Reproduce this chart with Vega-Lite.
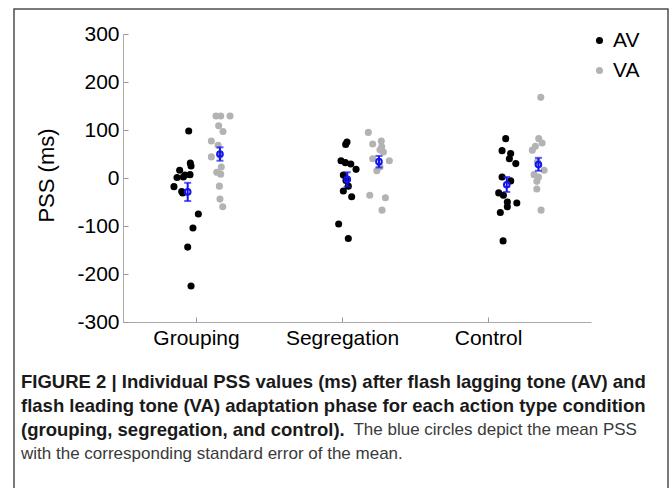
{
  "$schema": "https://vega.github.io/schema/vega-lite/v6.json",
  "width": 654,
  "height": 500,
  "autosize": {"type": "none"},
  "padding": {"left": 14, "top": 9, "right": 1, "bottom": 0},
  "background": "white",
  "config": {
    "view": {"stroke": "#4d4d4d", "strokeWidth": 1.5},
    "font": "Liberation Sans"
  },
  "title": {
    "text": [
      "FIGURE 2 | Individual PSS values (ms) after flash lagging tone (AV) and",
      "flash leading tone (VA) adaptation phase for each action type condition",
      "(grouping, segregation, and control)."
    ],
    "subtitle": [
      "\u200b\u2003\u2003\u2003\u2003\u2003\u2003\u2003\u2003\u2003\u2003\u2003\u2003\u2003\u2003\u2003\u2003\u2003\u2003\u2003\u00a0\u00a0The blue circles depict the mean PSS",
      "with the corresponding standard error of the mean."
    ],
    "orient": "bottom",
    "anchor": "start",
    "frame": "group",
    "offset": -136,
    "dx": 7,
    "font": "Liberation Sans",
    "fontSize": 18.5,
    "fontWeight": "bold",
    "lineHeight": 24,
    "color": "#1a1a1a",
    "subtitleFont": "Liberation Sans",
    "subtitleFontSize": 17,
    "subtitleFontWeight": "normal",
    "subtitleLineHeight": 24,
    "subtitleColor": "#3a3a3a",
    "subtitlePadding": -17.3
  },
  "datasets": {
    "points": [
      {"condition": "Grouping", "session": "AV", "pos": 0.950, "pss": 98},
      {"condition": "Grouping", "session": "AV", "pos": 0.961, "pss": 31},
      {"condition": "Grouping", "session": "AV", "pos": 0.966, "pss": 25},
      {"condition": "Grouping", "session": "AV", "pos": 0.888, "pss": 16},
      {"condition": "Grouping", "session": "AV", "pos": 0.959, "pss": 7},
      {"condition": "Grouping", "session": "AV", "pos": 0.870, "pss": 1},
      {"condition": "Grouping", "session": "AV", "pos": 0.913, "pss": 2},
      {"condition": "Grouping", "session": "AV", "pos": 0.925, "pss": 6},
      {"condition": "Grouping", "session": "AV", "pos": 0.849, "pss": -18},
      {"condition": "Grouping", "session": "AV", "pos": 0.909, "pss": -31},
      {"condition": "Grouping", "session": "AV", "pos": 0.902, "pss": -28},
      {"condition": "Grouping", "session": "AV", "pos": 1.016, "pss": -75},
      {"condition": "Grouping", "session": "AV", "pos": 0.979, "pss": -104},
      {"condition": "Grouping", "session": "AV", "pos": 0.943, "pss": -144},
      {"condition": "Grouping", "session": "AV", "pos": 0.966, "pss": -225},
      {"condition": "Grouping", "session": "VA", "pos": 1.137, "pss": 129},
      {"condition": "Grouping", "session": "VA", "pos": 1.169, "pss": 129},
      {"condition": "Grouping", "session": "VA", "pos": 1.233, "pss": 129},
      {"condition": "Grouping", "session": "VA", "pos": 1.155, "pss": 109},
      {"condition": "Grouping", "session": "VA", "pos": 1.185, "pss": 97},
      {"condition": "Grouping", "session": "VA", "pos": 1.105, "pss": 77},
      {"condition": "Grouping", "session": "VA", "pos": 1.151, "pss": 68},
      {"condition": "Grouping", "session": "VA", "pos": 1.105, "pss": 44},
      {"condition": "Grouping", "session": "VA", "pos": 1.164, "pss": 47},
      {"condition": "Grouping", "session": "VA", "pos": 1.173, "pss": 23},
      {"condition": "Grouping", "session": "VA", "pos": 1.142, "pss": 12},
      {"condition": "Grouping", "session": "VA", "pos": 1.169, "pss": 8},
      {"condition": "Grouping", "session": "VA", "pos": 1.160, "pss": -17},
      {"condition": "Grouping", "session": "VA", "pos": 1.164, "pss": -44},
      {"condition": "Grouping", "session": "VA", "pos": 1.183, "pss": -60},
      {"condition": "Segregation", "session": "AV", "pos": 2.025, "pss": 70},
      {"condition": "Segregation", "session": "AV", "pos": 2.034, "pss": 75},
      {"condition": "Segregation", "session": "AV", "pos": 1.993, "pss": 36},
      {"condition": "Segregation", "session": "AV", "pos": 2.023, "pss": 32},
      {"condition": "Segregation", "session": "AV", "pos": 2.060, "pss": 29},
      {"condition": "Segregation", "session": "AV", "pos": 2.096, "pss": 18},
      {"condition": "Segregation", "session": "AV", "pos": 2.009, "pss": 6},
      {"condition": "Segregation", "session": "AV", "pos": 2.027, "pss": -5},
      {"condition": "Segregation", "session": "AV", "pos": 2.043, "pss": -17},
      {"condition": "Segregation", "session": "AV", "pos": 2.009, "pss": -27},
      {"condition": "Segregation", "session": "AV", "pos": 2.066, "pss": -39},
      {"condition": "Segregation", "session": "AV", "pos": 1.977, "pss": -96},
      {"condition": "Segregation", "session": "AV", "pos": 2.043, "pss": -126},
      {"condition": "Segregation", "session": "VA", "pos": 2.180, "pss": 95},
      {"condition": "Segregation", "session": "VA", "pos": 2.269, "pss": 77},
      {"condition": "Segregation", "session": "VA", "pos": 2.210, "pss": 71},
      {"condition": "Segregation", "session": "VA", "pos": 2.272, "pss": 65},
      {"condition": "Segregation", "session": "VA", "pos": 2.260, "pss": 59},
      {"condition": "Segregation", "session": "VA", "pos": 2.283, "pss": 54},
      {"condition": "Segregation", "session": "VA", "pos": 2.210, "pss": 40},
      {"condition": "Segregation", "session": "VA", "pos": 2.324, "pss": 36},
      {"condition": "Segregation", "session": "VA", "pos": 2.260, "pss": 23},
      {"condition": "Segregation", "session": "VA", "pos": 2.238, "pss": 15},
      {"condition": "Segregation", "session": "VA", "pos": 2.190, "pss": -36},
      {"condition": "Segregation", "session": "VA", "pos": 2.297, "pss": -41},
      {"condition": "Segregation", "session": "VA", "pos": 2.274, "pss": -67},
      {"condition": "Control", "session": "AV", "pos": 3.121, "pss": 82},
      {"condition": "Control", "session": "AV", "pos": 3.096, "pss": 57},
      {"condition": "Control", "session": "AV", "pos": 3.155, "pss": 51},
      {"condition": "Control", "session": "AV", "pos": 3.146, "pss": 40},
      {"condition": "Control", "session": "AV", "pos": 3.190, "pss": 30},
      {"condition": "Control", "session": "AV", "pos": 3.096, "pss": 2},
      {"condition": "Control", "session": "AV", "pos": 3.155, "pss": -6},
      {"condition": "Control", "session": "AV", "pos": 3.073, "pss": -31},
      {"condition": "Control", "session": "AV", "pos": 3.105, "pss": -36},
      {"condition": "Control", "session": "AV", "pos": 3.132, "pss": -50},
      {"condition": "Control", "session": "AV", "pos": 3.197, "pss": -52},
      {"condition": "Control", "session": "AV", "pos": 3.132, "pss": -60},
      {"condition": "Control", "session": "AV", "pos": 3.084, "pss": -72},
      {"condition": "Control", "session": "AV", "pos": 3.103, "pss": -131},
      {"condition": "Control", "session": "VA", "pos": 3.361, "pss": 168},
      {"condition": "Control", "session": "VA", "pos": 3.347, "pss": 82},
      {"condition": "Control", "session": "VA", "pos": 3.370, "pss": 73},
      {"condition": "Control", "session": "VA", "pos": 3.324, "pss": 66},
      {"condition": "Control", "session": "VA", "pos": 3.303, "pss": 58},
      {"condition": "Control", "session": "VA", "pos": 3.338, "pss": 34},
      {"condition": "Control", "session": "VA", "pos": 3.384, "pss": 16},
      {"condition": "Control", "session": "VA", "pos": 3.315, "pss": 7},
      {"condition": "Control", "session": "VA", "pos": 3.345, "pss": 2},
      {"condition": "Control", "session": "VA", "pos": 3.334, "pss": -7},
      {"condition": "Control", "session": "VA", "pos": 3.334, "pss": -23},
      {"condition": "Control", "session": "VA", "pos": 3.363, "pss": -67}
    ],
    "means": [
      {"condition": "Grouping", "session": "AV", "pos": 0.943, "mean": -29, "lo": -48, "hi": -10},
      {"condition": "Grouping", "session": "VA", "pos": 1.164, "mean": 50, "lo": 36, "hi": 64},
      {"condition": "Segregation", "session": "AV", "pos": 2.036, "mean": -3, "lo": -18, "hi": 12},
      {"condition": "Segregation", "session": "VA", "pos": 2.253, "mean": 34, "lo": 22, "hi": 46},
      {"condition": "Control", "session": "AV", "pos": 3.128, "mean": -14, "lo": -29, "hi": 2},
      {"condition": "Control", "session": "VA", "pos": 3.345, "mean": 28, "lo": 15, "hi": 42}
    ]
  },
  "layer": [
    {
      "data": {"name": "points"},
      "mark": {"type": "circle", "size": 50, "opacity": 1},
      "encoding": {
        "x": {
          "field": "pos", "type": "quantitative", "title": null,
          "scale": {"domain": [0.5, 3.705], "range": [109, 577], "nice": false, "zero": false},
          "axis": {
            "orient": "bottom", "offset": -187, "values": [1, 2, 3],
            "labelExpr": "datum.value == 1 ? 'Grouping' : datum.value == 2 ? 'Segregation' : 'Control'",
            "grid": false, "domainColor": "#aaaaaa", "domainWidth": 1,
            "tickColor": "#999999", "tickSize": -5, "tickWidth": 1,
            "labelPadding": 10, "labelFontSize": 21, "labelFont": "Liberation Sans",
            "labelColor": "#000000", "labelFlush": false, "labelOverlap": false
          }
        },
        "y": {
          "field": "pss", "type": "quantitative", "title": "PSS (ms)",
          "scale": {"domain": [-300, 300], "range": [313, 25], "nice": false, "zero": false},
          "axis": {
            "orient": "left", "offset": -109, "values": [-300, -200, -100, 0, 100, 200, 300],
            "labelExpr": "'' + datum.value",
            "grid": false, "domainColor": "#aaaaaa", "domainWidth": 1,
            "tickColor": "#999999", "tickSize": -5, "tickWidth": 1,
            "labelPadding": 9, "labelFontSize": 21, "labelFont": "Liberation Sans",
            "labelColor": "#000000", "labelFlush": false, "labelOverlap": false,
            "titleFontSize": 22, "titleFont": "Liberation Sans", "titleFontWeight": "normal",
            "titleColor": "#000000", "titleX": -70, "titleY": 166, "titleBaseline": "alphabetic", "titleAngle": -90
          }
        },
        "color": {
          "field": "session", "type": "nominal",
          "scale": {"domain": ["AV", "VA"], "range": ["#000000", "#b3b3b3"]},
          "legend": {
            "orient": "none", "legendX": 575, "legendY": 21, "title": null,
            "symbolType": "circle", "symbolSize": 50, "labelFontSize": 21,
            "labelFont": "Liberation Sans", "labelColor": "#000000",
            "rowPadding": 8, "labelOffset": 3, "padding": 0
          }
        }
      }
    },
    {
      "data": {"name": "means"},
      "mark": {"type": "rule", "color": "#1414ee", "strokeWidth": 2},
      "encoding": {
        "x": {"field": "pos", "type": "quantitative", "title": null},
        "y": {"field": "lo", "type": "quantitative", "title": "PSS (ms)"},
        "y2": {"field": "hi"}
      }
    },
    {
      "data": {"name": "means"},
      "mark": {"type": "tick", "orient": "horizontal", "size": 7, "thickness": 2, "color": "#1414ee"},
      "encoding": {
        "x": {"field": "pos", "type": "quantitative", "title": null},
        "y": {"field": "lo", "type": "quantitative", "title": "PSS (ms)"}
      }
    },
    {
      "data": {"name": "means"},
      "mark": {"type": "tick", "orient": "horizontal", "size": 7, "thickness": 2, "color": "#1414ee"},
      "encoding": {
        "x": {"field": "pos", "type": "quantitative", "title": null},
        "y": {"field": "hi", "type": "quantitative", "title": "PSS (ms)"}
      }
    },
    {
      "data": {"name": "means"},
      "mark": {"type": "point", "shape": "circle", "filled": false, "size": 32, "strokeWidth": 2, "color": "#1414ee", "opacity": 1},
      "encoding": {
        "x": {"field": "pos", "type": "quantitative", "title": null},
        "y": {"field": "mean", "type": "quantitative", "title": "PSS (ms)"}
      }
    }
  ]
}
